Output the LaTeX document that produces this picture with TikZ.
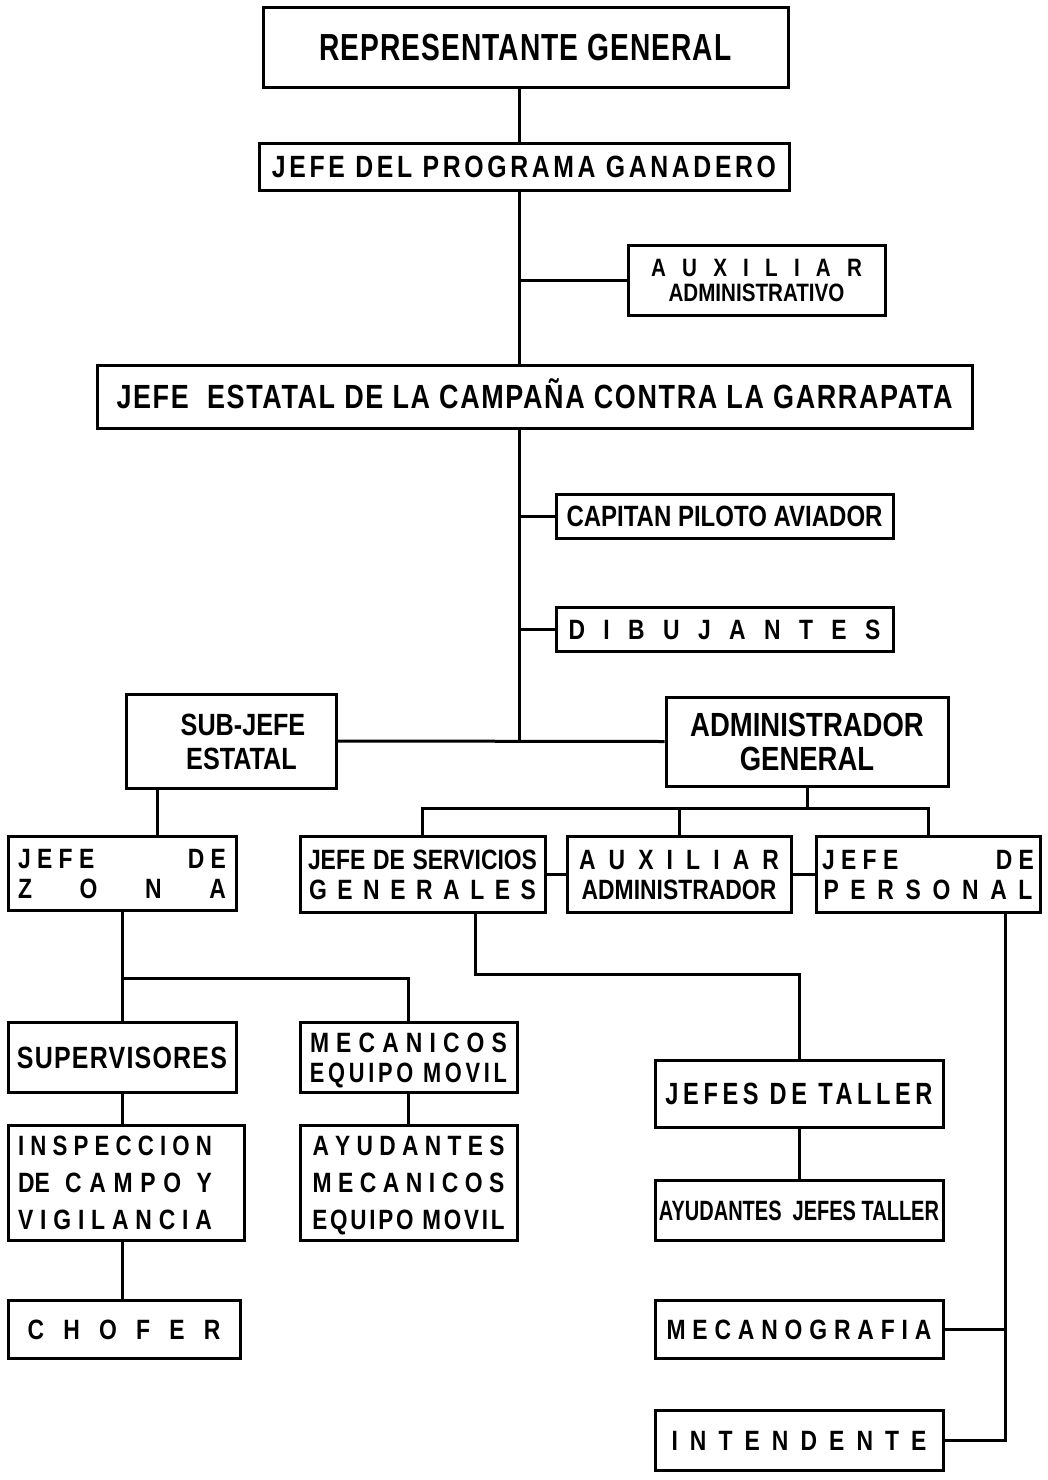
\documentclass[tikz,border=0pt]{standalone}
\usepackage{fontspec}
\setmainfont{Liberation Sans}[FakeStretch=0.82]
\usepackage{graphicx}
\newsavebox\tlbox
% \tline[letterspace]{width}{cap height}{text}
\newcommand\tline[4][0]{{\fontsize{\fpeval{#3/0.716}}{\fpeval{#3*1.5}}\selectfont\bfseries
  \addfontfeatures{LetterSpace=#1}%
  \sbox\tlbox{#4}%
  \raisebox{0pt}[#3pt][0pt]{\ifdim\wd\tlbox>#2pt\relax\resizebox{#2pt}{\height}{\usebox\tlbox}\else\makebox[#2pt][s]{\hspace{0pt plus 0.01pt}#4\hspace{0pt plus 0.01pt}}\fi}}}
\tikzset{
  bx/.style={draw, line width=3pt, inner sep=0pt, align=center, minimum width=#1},
  ls/.style={font=\fontsize{10}{#1}\selectfont},
  link/.style={line width=3pt}
}
\begin{document}
\begin{tikzpicture}[x=1pt,y=-1pt]
\useasboundingbox (0,0) rectangle (1047,1480);
\fill[white] (0,0) rectangle (1047,1480);

% boxes
\node[bx=525pt, minimum height=79pt] (rep) at (525.5,47.5) {\tline[3]{412}{27}{REPRESENTANTE GENERAL}};
\node[bx=530pt, minimum height=47pt] (prog) at (524,166.5) {\tline[12]{504}{22}{JEFE DEL PROGRAMA GANADERO}};
\node[bx=257pt, minimum height=70pt, ls=25pt] (aux) at (756.5,280) {\tline{211}{18}{A U X I L I A R}\\\tline{212}{18}{ADMINISTRATIVO}};
\node[bx=875pt, minimum height=63pt] (est) at (534.5,396.5) {\tline[5]{836}{24}{JEFE~~ESTATAL DE LA CAMPAÑA CONTRA LA GARRAPATA}};
\node[bx=337pt, minimum height=44pt] (cap) at (724.5,516) {\tline{316}{21}{CAPITAN PILOTO AVIADOR}};
\node[bx=337pt, minimum height=44pt] (dib) at (724.5,629) {\tline{312}{20}{D I B U J A N T E S}};
\node[bx=210pt, minimum height=94pt, ls=34pt] (sub) at (231,741) {\hspace*{24pt}\tline{166}{22}{SUB-JEFE}\\\hspace*{21pt}\tline{153}{22}{ESTATAL}};
\node[bx=282pt, minimum height=89pt, ls=34pt] (adm) at (807,741.5) {\tline{252}{24}{ADMINISTRADOR}\\\tline{149}{24}{GENERAL}};
\node[bx=228pt, minimum height=74pt, ls=30pt] (zona) at (122,873) {\tline{208}{20}{J E F E\hfill D E}\\\tline{208}{20}{Z O N A}};
\node[bx=245pt, minimum height=76pt, ls=30pt] (serv) at (422.5,874) {\tline{229}{20}{JEFE DE SERVICIOS}\\\tline{227}{20}{G E N E R A L E S}};
\node[bx=224pt, minimum height=76pt, ls=30pt] (auxad) at (679,874) {\tline{200}{20}{A U X I L I A R}\\\tline{200}{20}{ADMINISTRADOR}};
\node[bx=224pt, minimum height=76pt, ls=30pt] (pers) at (928,874) {\tline{212}{20}{J E F E\hfill D E}\\\tline{209}{20}{P E R S O N A L}};
\node[bx=228pt, minimum height=70pt] (sup) at (122,1057) {\tline[4]{210}{22}{SUPERVISORES}};
\node[bx=217pt, minimum height=70pt, ls=30pt] (mec) at (408.5,1057) {\tline{197}{20}{M E C A N I C O S}\\\tline[14]{197}{20}{EQUIPO MOVIL}};
\node[bx=236pt, minimum height=115pt, ls=37pt] (insp) at (126,1182.5) {\hspace*{-22pt}\tline{194}{20}{I N S P E C C I O N}\\\hspace*{-22pt}\tline{194}{20}{DE~~C A M P O~~Y}\\\hspace*{-22pt}\tline{194}{20}{V I G I L A N C I A}};
\node[bx=217pt, minimum height=115pt, ls=37pt] (ayu) at (408.5,1182.5) {\tline{192}{20}{A Y U D A N T E S}\\\tline{192}{20}{M E C A N I C O S}\\\tline[10]{192}{20}{EQUIPO MOVIL}};
\node[bx=232pt, minimum height=58pt] (chof) at (124,1329) {\tline{193}{20}{C H O F E R}};
\node[bx=288pt, minimum height=67pt] (jtall) at (799,1093.5) {\tline[16]{267}{22}{JEFES DE TALLER}};
\node[bx=288pt, minimum height=60pt] (ajt) at (799,1210) {\tline{280}{20}{AYUDANTES~~JEFES TALLER}};
\node[bx=288pt, minimum height=58pt] (meca) at (799,1329) {\tline{265}{20}{M E C A N O G R A F I A}};
\node[bx=288pt, minimum height=60pt] (inte) at (799,1440) {\tline{255}{20}{I N T E N D E N T E}};

% helper coordinates
\coordinate (t1) at (519,0);
\coordinate (t2) at (157,0);
\coordinate (b1) at (0,808);
\coordinate (b2) at (0,978);
\coordinate (t3) at (475,974);
\coordinate (t4) at (1005,0);

% connectors
\draw[link] (t1 |- rep.south) -- (t1 |- prog.north);
\draw[link] (t1 |- prog.south) -- (t1 |- est.north);
\draw[link] (t1 |- aux.west) -- (aux.west);
\draw[link] (t1 |- est.south) -- (t1 |- sub.east);
\draw[link] (t1 |- cap.west) -- (cap.west);
\draw[link] (t1 |- dib.west) -- (dib.west);
\draw[link] (sub.east) -- (adm.west);
\draw[link] (t2 |- sub.south) -- (t2 |- zona.north);
\draw[link] (adm.south) -- (adm.south |- b1);
\draw[link] (serv.north) -- (serv.north |- b1) -- (pers.north |- b1) -- (pers.north);
\draw[link] (auxad.north) -- (auxad.north |- b1);
\draw[link] (serv.east) -- (auxad.west);
\draw[link] (auxad.east) -- (pers.west);
\draw[link] (zona.south) -- (sup.north);
\draw[link] (zona.south |- b2) -| (mec.north);
\draw[link] (sup.south) -- (sup.south |- insp.north);
\draw[link] (sup.south |- insp.south) -- (sup.south |- chof.north);
\draw[link] (mec.south) -- (ayu.north);
\draw[link] (t3 |- serv.south) -- (t3) -| (jtall.north);
\draw[link] (jtall.south) -- (ajt.north);
\draw[link] (t4 |- pers.south) |- (inte.east);
\draw[link] (meca.east) -- (t4 |- meca.east);
\end{tikzpicture}
\end{document}
